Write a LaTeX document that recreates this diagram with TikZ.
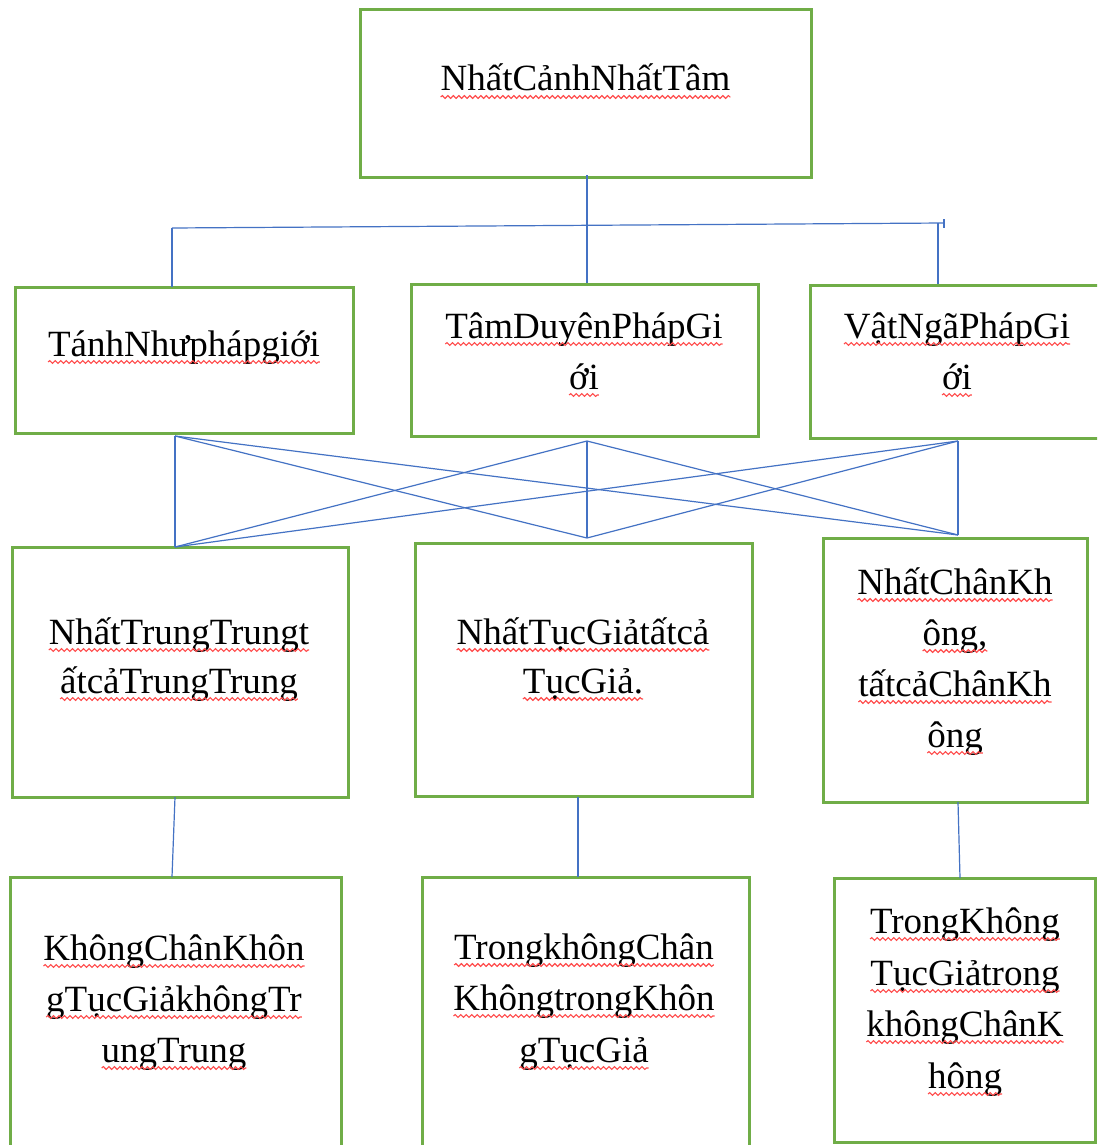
\documentclass[tikz,border=0pt]{standalone}
\usepackage{fontspec}
\setmainfont{Liberation Serif}
\usetikzlibrary{decorations.pathmorphing}
\definecolor{boxgreen}{HTML}{70AD47}
\definecolor{lineblue}{HTML}{4472C4}
\definecolor{squigred}{HTML}{FF4A4A}
\tikzset{
  box/.style={draw=boxgreen, line width=3pt, rectangle, inner sep=0pt, fill=none},
  conn/.style={draw=lineblue, line width=1.2pt},
  txt/.style={inner sep=0pt, outer sep=0pt, font=\fontsize{37}{50}\selectfont, text=black},
  squig/.style={draw=squigred, line width=1.1pt, decorate, decoration={snake, amplitude=1.4pt, segment length=5.5pt}}
}
\newcommand\txtline[4]{%
  \node[txt, anchor=base] (#1) at (#2,#3) {#4};
  \draw[squig] ([yshift=-6pt]#1.base west) -- ([yshift=-6pt]#1.base east);}
\begin{document}
\begin{tikzpicture}[x=1pt, y=-1pt]
\clip (0,0) rectangle (1097,1145);
\fill[white] (0,0) rectangle (1097,1145);
% boxes
\node[box, minimum width=451pt, minimum height=167pt] (t) at (585.5,93.5) {};
\node[box, minimum width=338pt, minimum height=146pt] (b1) at (184,360) {};
\node[box, minimum width=347pt, minimum height=152pt] (b2) at (584.5,360) {};
\node[box, minimum width=290pt, minimum height=153pt] (b3) at (955,361.5) {};
\node[box, minimum width=336pt, minimum height=250pt] (c1) at (180,672) {};
\node[box, minimum width=337pt, minimum height=253pt] (c2) at (583.5,669.5) {};
\node[box, minimum width=264pt, minimum height=264pt] (c3) at (955,670) {};
\node[box, minimum width=331pt, minimum height=273pt] (d1) at (175.5,1013.5) {};
\node[box, minimum width=327pt, minimum height=273pt] (d2) at (585.5,1013.5) {};
\node[box, minimum width=261pt, minimum height=264pt] (d3) at (964.5,1010) {};
% texts
\txtline{t1}{585.5}{91}{NhấtCảnhNhấtTâm}
\txtline{b1l1}{184}{356}{TánhNhưphápgiới}
\txtline{b2l1}{584}{338}{TâmDuyênPhápGi}
\txtline{b2l2}{584}{389}{ới}
\txtline{b3l1}{957}{338}{VậtNgãPhápGi}
\txtline{b3l2}{957}{389}{ới}
\txtline{c1l1}{179}{644}{NhấtTrungTrungt}
\txtline{c1l2}{179}{693}{ấtcảTrungTrung}
\txtline{c2l1}{583}{644}{NhấtTụcGiảtấtcả}
\txtline{c2l2}{583}{693}{TụcGiả.}
\txtline{c3l1}{955}{594}{NhấtChânKh}
\txtline{c3l2}{955}{645}{ông,}
\txtline{c3l3}{955}{696}{tấtcảChânKh}
\txtline{c3l4}{955}{747}{ông}
\txtline{d1l1}{174}{960}{KhôngChânKhôn}
\txtline{d1l2}{174}{1011}{gTụcGiảkhôngTr}
\txtline{d1l3}{174}{1062}{ungTrung}
\txtline{d2l1}{584}{959}{TrongkhôngChân}
\txtline{d2l2}{584}{1010}{KhôngtrongKhôn}
\txtline{d2l3}{584}{1062}{gTụcGiả}
\txtline{d3l1}{965}{933}{TrongKhông}
\txtline{d3l2}{965}{985}{TụcGiảtrong}
\txtline{d3l3}{965}{1036}{khôngChânK}
\txtline{d3l4}{965}{1088}{hông}
% connector points
\coordinate (tb) at (587,175);
\coordinate (hl) at (172,228);
\coordinate (hr) at (944,223);
\coordinate (hrv) at (938,223.2);
\coordinate (b1n) at (172,287);
\coordinate (b2n) at (587,283);
\coordinate (b3n) at (938,284);
\coordinate (tick1) at (944,219);
\coordinate (tick2) at (944,228);
\coordinate (A1) at (175,436);
\coordinate (A2) at (587,441);
\coordinate (A3) at (958,441);
\coordinate (B1) at (175,547);
\coordinate (B2) at (587,538);
\coordinate (B3) at (958,535);
\coordinate (c1s) at (175,797);
\coordinate (d1n) at (172,877);
\coordinate (c2s) at (578,797);
\coordinate (d2n) at (578,877);
\coordinate (c3s) at (958,802);
\coordinate (d3n) at (960,878);
% connectors
\draw[conn] (tb) -- (b2n);
\draw[conn] (hl) -- (hr);
\draw[conn] (tick1) -- (tick2);
\draw[conn] (hl) -- (b1n);
\draw[conn] (hrv) -- (b3n);
\foreach \a in {A1,A2,A3}{
  \foreach \b in {B1,B2,B3}{
    \draw[conn] (\a) -- (\b);
  }
}
\draw[conn] (c1s) -- (d1n);
\draw[conn] (c2s) -- (d2n);
\draw[conn] (c3s) -- (d3n);
\end{tikzpicture}
\end{document}
